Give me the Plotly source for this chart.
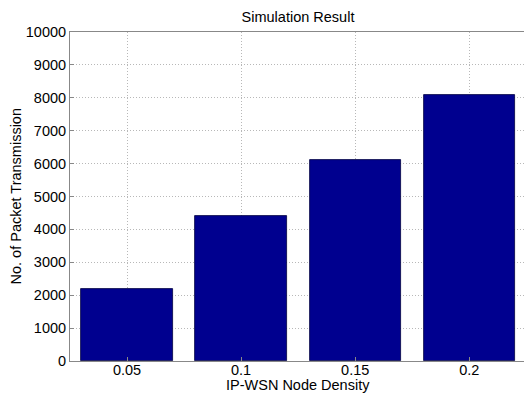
import plotly.graph_objects as go

densities = [0.05, 0.1, 0.15, 0.2]
tick_labels = ["0.05", "0.1", "0.15", "0.2"]
packets = [2200, 4400, 6100, 8100]
y_ticks = [0, 1000, 2000, 3000, 4000, 5000, 6000, 7000, 8000, 9000, 10000]
y_tick_labels = [str(v) for v in y_ticks]

fig = go.Figure()
fig.add_trace(go.Bar(
    x=densities, y=packets, width=0.04,
    marker=dict(color="#00008F", line=dict(color="#000040", width=0.8)),
    hoverinfo="skip",
))

font = "Liberation Sans, Arial, Helvetica, sans-serif"
H = 396
fig.update_layout(
    width=524, height=H,
    margin=dict(l=70, r=0, t=32, b=35, autoexpand=False),
    plot_bgcolor="white", paper_bgcolor="white",
    showlegend=False,
    font=dict(family=font, color="black", size=14.5),
    title=dict(text="Simulation Result", x=298/524, xref="container", xanchor="center",
               y=1 - 17/H, yref="container", yanchor="middle",
               font=dict(size=14.5, family=font, color="black")),
    bargap=0,
    annotations=[
        dict(text="IP-WSN Node Density", xref="paper", yref="paper",
             x=(298-70)/454, y=-(385-361)/329, xanchor="center", yanchor="middle",
             showarrow=False, font=dict(size=14.5, family=font, color="black")),
        dict(text="No. of Packet Transmission", xref="paper", yref="paper",
             x=-(70-15)/454, y=0.5, xanchor="center", yanchor="middle", textangle=-90,
             showarrow=False, font=dict(size=14.5, family=font, color="black")),
    ],
)
grid_dash = "1px,2px"
fig.update_xaxes(
    range=[0.025, 0.224], tickvals=densities, ticktext=tick_labels,
    showgrid=True, gridcolor="#b8b8b8", griddash=grid_dash, gridwidth=1,
    showline=True, linecolor="#888888", linewidth=1, mirror=True,
    ticks="inside", ticklen=4, tickcolor="#888888", ticklabelstandoff=-4,
    tickfont=dict(size=14.5), zeroline=False, automargin=False,
)
fig.update_yaxes(
    range=[0, 10000], tickvals=y_ticks, ticktext=y_tick_labels,
    showgrid=True, gridcolor="#b8b8b8", griddash=grid_dash, gridwidth=1,
    showline=True, linecolor="#888888", linewidth=1, mirror=True,
    ticks="inside", ticklen=4, tickcolor="#888888", ticklabelstandoff=0,
    tickfont=dict(size=14.5), zeroline=False, automargin=False,
)
fig.write_html("out.html", config={"displayModeBar": False},
               post_script="document.body.style.margin='0';document.body.style.overflow='hidden';")
